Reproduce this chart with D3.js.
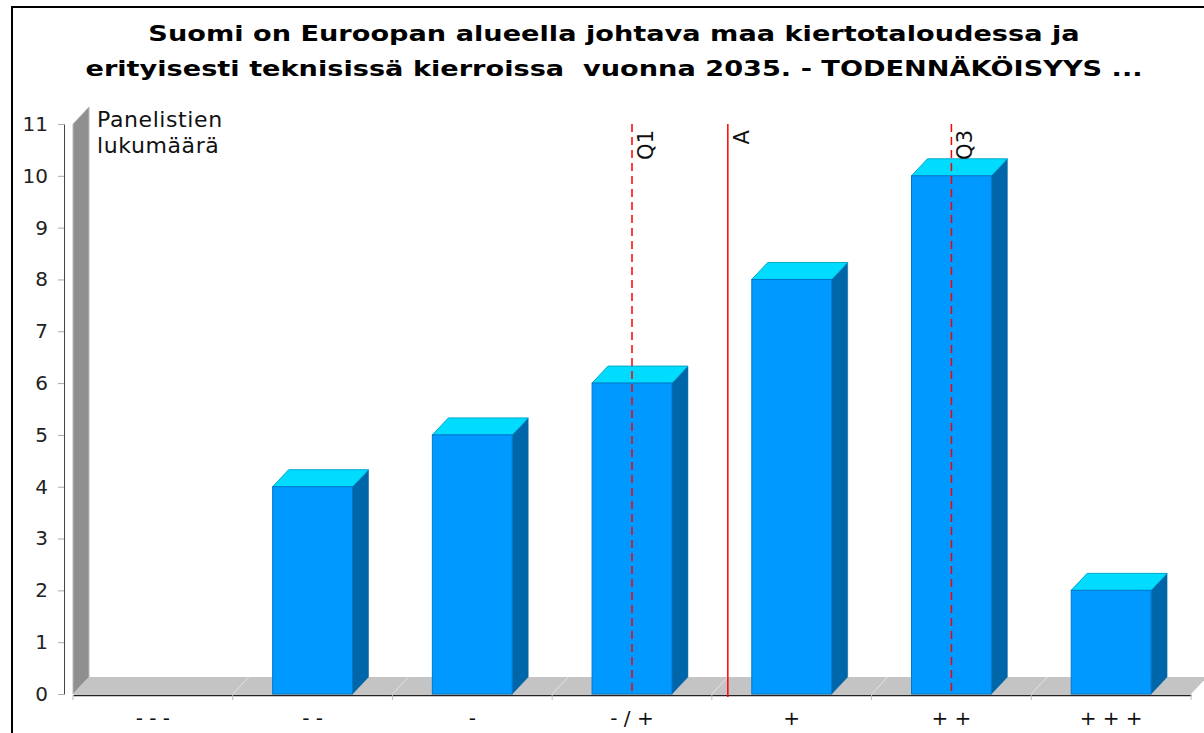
<!DOCTYPE html>
<html>
<head>
<meta charset="utf-8">
<script src="https://cdn.jsdelivr.net/npm/d3@7"></script>
<style>
  html, body { margin: 0; padding: 0; background: #fff; }
  svg { display: block; font-family: "DejaVu Sans", sans-serif; }
</style>
</head>
<body>
<div id="chart"></div>
<script>
"use strict";

// ---------------------------------------------------------------------------
// Data
// ---------------------------------------------------------------------------

const titleLines = [
  "Suomi on Euroopan alueella johtava maa kiertotaloudessa ja",
  "erityisesti teknisissä kierroissa  vuonna 2035. - TODENNÄKÖISYYS ..."
];
const categories = ["- - -", "- -", "-", "- / +", "+", "+ +", "+ + +"];
const counts = [0, 4, 5, 6, 8, 10, 2];
const yTicks = [0, 1, 2, 3, 4, 5, 6, 7, 8, 9, 10, 11];
const yLabel = ["Panelistien", "lukumäärä"];
// statistics on the 1..7 category scale
const markers = [
  { label: "Q1", value: 4, dashed: true },
  { label: "A", value: 4.6, dashed: false },
  { label: "Q3", value: 6, dashed: true }
];

// ---------------------------------------------------------------------------
// Layout
// ---------------------------------------------------------------------------

const W = 1204;
const H = 733;
const plotLeft = 73, plotRight = 1191, plotTop = 124, plotBottom = 694;
const depthX = 16, depthY = 17;

const svg = d3.select("#chart")
  .append("svg")
  .attr("width", W)
  .attr("height", H);

// frame
svg.append("rect")
  .attr("x", 12).attr("y", 7)
  .attr("width", W).attr("height", H)
  .attr("fill", "none")
  .attr("stroke", "#000")
  .attr("stroke-width", 2);

// title (the original font is wider than DejaVu, so stretch it a bit)
svg.append("g")
  .selectAll("text")
  .data(titleLines)
  .join("text")
  .attr("transform", (d, i) => `translate(614,${41 + i * 35}) scale(1.235,1)`)
  .attr("text-anchor", "middle")
  .attr("font-size", "22px")
  .attr("font-weight", "bold")
  .style("white-space", "pre")
  .text((d) => d);

const x = d3.scaleBand()
  .domain(categories)
  .range([plotLeft, plotRight])
  .paddingInner(0.5)
  .paddingOuter(0.25);

const xVal = d3.scaleLinear().domain([0.5, 7.5]).range([plotLeft, plotRight]);

const y = d3.scaleLinear().domain([0, 11]).range([plotBottom, plotTop]);

const step = x.step();

// ---------------------------------------------------------------------------
// 3D wall and floor
// ---------------------------------------------------------------------------

svg.append("polygon")
  .attr("points", [
    [plotLeft, y(11)], [plotLeft + depthX, y(11) - depthY],
    [plotLeft + depthX, plotBottom - depthY], [plotLeft, plotBottom]
  ].join(" "))
  .attr("fill", "#8f8f8f")
  .attr("stroke", "#b8b8b8")
  .attr("stroke-width", 1);

svg.append("polygon")
  .attr("points", [
    [plotLeft, plotBottom], [plotLeft + depthX, plotBottom - depthY],
    [plotRight + depthX, plotBottom - depthY], [plotRight, plotBottom]
  ].join(" "))
  .attr("fill", "#c4c4c4");

// floor separators
svg.append("g")
  .selectAll("line")
  .data(categories.slice(1))
  .join("line")
  .attr("x1", (d) => x(d) - step * 0.25)
  .attr("x2", (d) => x(d) - step * 0.25 + depthX)
  .attr("y1", plotBottom)
  .attr("y2", plotBottom - depthY)
  .attr("stroke", "#e4e4e4")
  .attr("stroke-width", 1);

// ---------------------------------------------------------------------------
// Bars
// ---------------------------------------------------------------------------

const barData = categories.map((c, i) => ({ cat: c, value: counts[i] }))
  .filter((d) => d.value > 0);

const bars = svg.append("g")
  .selectAll("g")
  .data(barData)
  .join("g");

bars.append("polygon")
  .attr("points", (d) => {
    const x1 = x(d.cat) + x.bandwidth();
    const yv = y(d.value);
    return [[x1, yv], [x1 + depthX, yv - depthY],
      [x1 + depthX, plotBottom - depthY], [x1, plotBottom]].join(" ");
  })
  .attr("fill", "#0066aa")
  .attr("stroke", "#005c99")
  .attr("stroke-width", 0.5);

bars.append("polygon")
  .attr("points", (d) => {
    const x0 = x(d.cat);
    const x1 = x0 + x.bandwidth();
    const yv = y(d.value);
    return [[x0, yv], [x0 + depthX, yv - depthY],
      [x1 + depthX, yv - depthY], [x1, yv]].join(" ");
  })
  .attr("fill", "#00dcff")
  .attr("stroke", "#00a8cc")
  .attr("stroke-width", 1);

bars.append("rect")
  .attr("x", (d) => x(d.cat))
  .attr("y", (d) => y(d.value))
  .attr("width", x.bandwidth())
  .attr("height", (d) => plotBottom - y(d.value))
  .attr("fill", "#0099ff")
  .attr("stroke", "#0078cc")
  .attr("stroke-width", 1);

// ---------------------------------------------------------------------------
// Axes
// ---------------------------------------------------------------------------

const yAxis = svg.append("g")
  .attr("transform", "translate(64,0)")
  .call(d3.axisLeft(y).tickValues(yTicks).tickSize(6).tickPadding(10).tickSizeOuter(0));
yAxis.select(".domain").attr("stroke", "#444");
yAxis.selectAll(".tick line").attr("stroke", "#aaa");
yAxis.selectAll(".tick text")
  .attr("font-family", "DejaVu Sans")
  .attr("font-size", "20px")
  .attr("fill", "#222");

const xAxis = svg.append("g")
  .attr("transform", `translate(0,${plotBottom + 1})`)
  .call(d3.axisBottom(x).tickSize(0).tickPadding(16));
xAxis.select(".domain").attr("stroke", "#222").attr("stroke-width", 1.5);
xAxis.selectAll(".tick text")
  .attr("font-family", "DejaVu Sans")
  .attr("font-size", "20px")
  .attr("fill", "#111");

// boundary ticks
svg.append("g")
  .selectAll("line")
  .data(d3.range(categories.length + 1))
  .join("line")
  .attr("x1", (i) => plotLeft + i * step)
  .attr("x2", (i) => plotLeft + i * step)
  .attr("y1", plotBottom + 1)
  .attr("y2", plotBottom + 6)
  .attr("stroke", "#bbb");

// axis caption
svg.append("g")
  .selectAll("text")
  .data(yLabel)
  .join("text")
  .attr("x", 97)
  .attr("y", (d, i) => 127 + i * 26)
  .attr("font-size", "22px")
  .attr("letter-spacing", "0.6px")
  .attr("fill", "#111")
  .text((d) => d);

// ---------------------------------------------------------------------------
// Marker lines
// ---------------------------------------------------------------------------

const mk = svg.append("g")
  .selectAll("g")
  .data(markers)
  .join("g")
  .attr("transform", (d) => `translate(${xVal(d.value)},0)`);

mk.append("line")
  .attr("y1", plotTop)
  .attr("y2", (d) => (d.dashed ? plotBottom : plotBottom + 3))
  .attr("stroke", "#ff0000")
  .attr("stroke-width", 1.5)
  .attr("stroke-dasharray", (d) => (d.dashed ? "8,5" : null));

mk.append("text")
  .attr("transform", "translate(21,130) rotate(-90)")
  .attr("text-anchor", "end")
  .attr("font-size", "21px")
  .attr("fill", "#111")
  .text((d) => d.label);
</script>
</body>
</html>
